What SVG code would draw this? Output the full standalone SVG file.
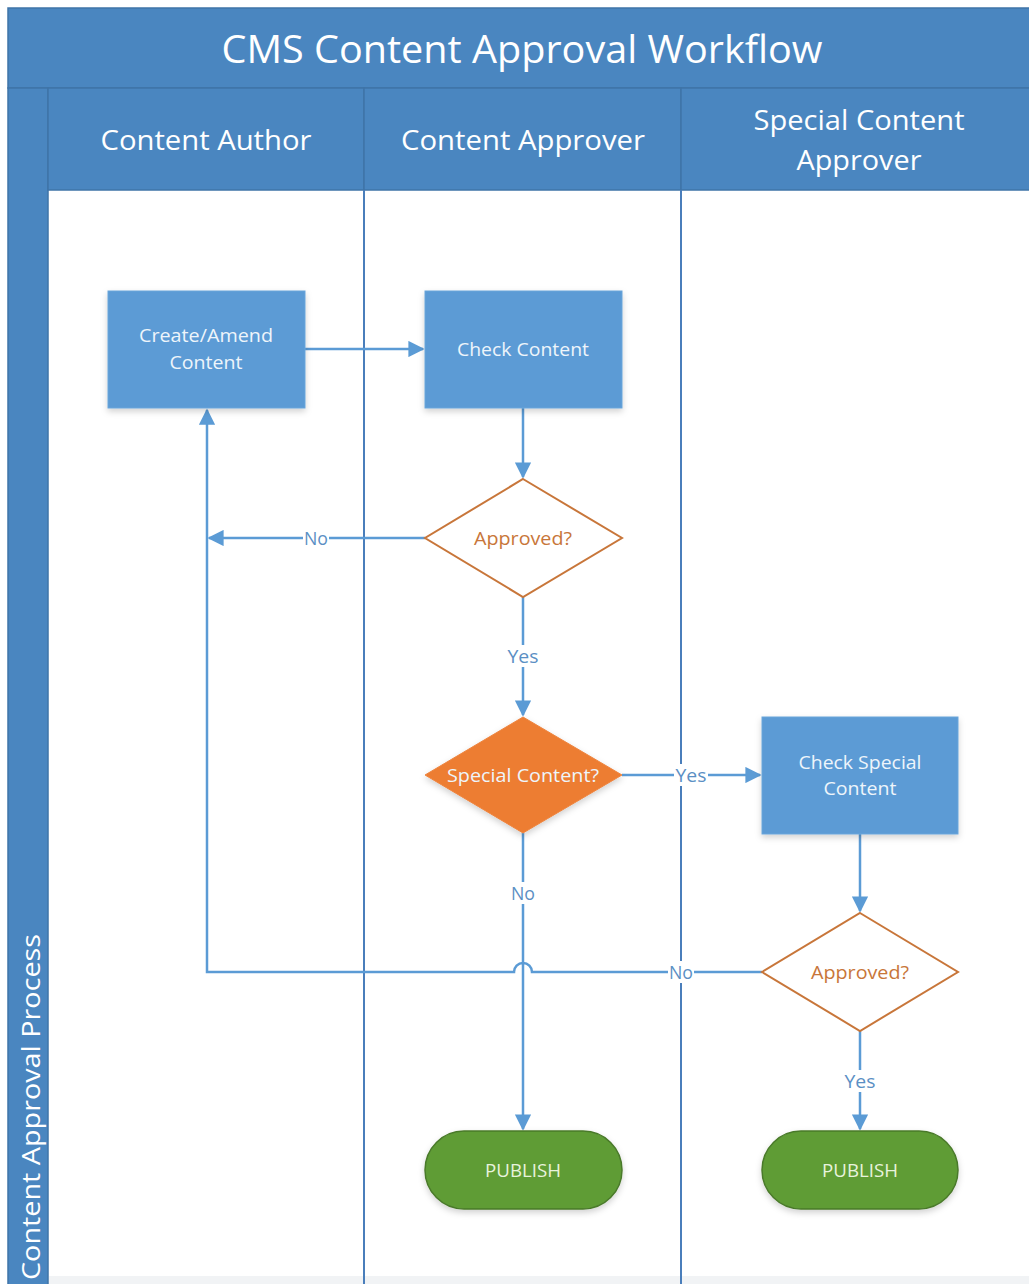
<svg xmlns="http://www.w3.org/2000/svg" width="1029" height="1284" viewBox="0 0 1029 1284">
<style>
.hdr{fill:#4a86c0;stroke:#3f74a8;stroke-width:1.5}
.lane{stroke:#4a7ebb;stroke-width:2;fill:none}
.box{fill:#5b9bd5;stroke:#6aa5da;stroke-width:1}
.dia{fill:#ffffff;stroke:#c8763a;stroke-width:2}
.diaf{fill:#ed7d31;stroke:#ee8540;stroke-width:1}
.pub{fill:#5f9c36;stroke:#4a7a2a;stroke-width:1.5}
.conn{stroke:#5b9bd5;stroke-width:2.5;fill:none}
.t{font-family:"Open Sans","Noto Sans",sans-serif;text-anchor:middle;dominant-baseline:central}
.tw{fill:#ffffff}
.tn{fill:#eef5fb;font-size:18px}
.to{fill:#c8763a;font-size:18px}
.tg{fill:#e8f3dc;font-size:18px}
.lbl{fill:#5b8fc4;font-size:18px}
</style>
<defs>
<marker id="arr" viewBox="0 0 10 10" refX="9" refY="5" markerWidth="6.5" markerHeight="6.5" orient="auto" markerUnits="strokeWidth">
<path d="M0,0 L10,5 L0,10 z" fill="#5b9bd5"/>
</marker>
<filter id="sh" x="-10%" y="-10%" width="130%" height="140%">
<feDropShadow dx="0" dy="3" stdDeviation="3" flood-color="#000" flood-opacity="0.18"/>
</filter>
</defs>
<rect width="1029" height="1284" fill="#ffffff"/>
<g id="frame">
<rect class="hdr" x="8" y="8" width="1025" height="80"/>
<rect class="hdr" x="8" y="88" width="40" height="1200"/>
<rect class="hdr" x="48" y="88" width="316" height="102"/>
<rect class="hdr" x="364" y="88" width="317" height="102"/>
<rect class="hdr" x="681" y="88" width="352" height="102"/>
<rect x="49" y="1276" width="980" height="8" fill="#f1f3f5"/>
<line class="lane" x1="364" y1="190" x2="364" y2="1284"/>
<line class="lane" x1="681" y1="190" x2="681" y2="1284"/>
<text class="t tw" x="522" y="48" font-size="38" textLength="601" lengthAdjust="spacingAndGlyphs">CMS Content Approval Workflow</text>
<text class="t tw" x="206" y="139" font-size="27" textLength="211" lengthAdjust="spacingAndGlyphs">Content Author</text>
<text class="t tw" x="523" y="139" font-size="27" textLength="244" lengthAdjust="spacingAndGlyphs">Content Approver</text>
<text class="t tw" x="859" y="119" font-size="27" textLength="211" lengthAdjust="spacingAndGlyphs">Special Content</text>
<text class="t tw" x="859" y="159" font-size="27" textLength="125" lengthAdjust="spacingAndGlyphs">Approver</text>
<text class="t tw" x="30" y="1107" font-size="26" transform="rotate(-90 30 1107)" textLength="346" lengthAdjust="spacingAndGlyphs">Content Approval Process</text>
</g>
<g id="connectors">
<line class="conn" x1="305" y1="349" x2="423" y2="349" marker-end="url(#arr)"/>
<line class="conn" x1="523" y1="408" x2="523" y2="477" marker-end="url(#arr)"/>
<line class="conn" x1="425" y1="538" x2="209" y2="538" marker-end="url(#arr)"/>
<line class="conn" x1="523" y1="597" x2="523" y2="715" marker-end="url(#arr)"/>
<line class="conn" x1="622" y1="775" x2="760" y2="775" marker-end="url(#arr)"/>
<line class="conn" x1="523" y1="833" x2="523" y2="1129" marker-end="url(#arr)"/>
<line class="conn" x1="860" y1="834" x2="860" y2="911" marker-end="url(#arr)"/>
<line class="conn" x1="860" y1="1031" x2="860" y2="1129" marker-end="url(#arr)"/>
<path class="conn" d="M762,972 H532 A9,9 0 0 0 514,972 H207 V410" marker-end="url(#arr)"/>
<rect x="303" y="528" width="26" height="20" fill="#ffffff"/>
<text class="t lbl" x="316" y="538" textLength="24" lengthAdjust="spacingAndGlyphs">No</text>
<rect x="506" y="645" width="34" height="22" fill="#ffffff"/>
<text class="t lbl" x="523" y="656" textLength="31" lengthAdjust="spacingAndGlyphs">Yes</text>
<rect x="674" y="764" width="34" height="22" fill="#ffffff"/>
<text class="t lbl" x="691" y="775" textLength="31" lengthAdjust="spacingAndGlyphs">Yes</text>
<rect x="509" y="882" width="28" height="22" fill="#ffffff"/>
<text class="t lbl" x="523" y="893" textLength="24" lengthAdjust="spacingAndGlyphs">No</text>
<rect x="668" y="961" width="26" height="22" fill="#ffffff"/>
<text class="t lbl" x="681" y="972" textLength="24" lengthAdjust="spacingAndGlyphs">No</text>
<rect x="843" y="1070" width="34" height="22" fill="#ffffff"/>
<text class="t lbl" x="860" y="1081" textLength="31" lengthAdjust="spacingAndGlyphs">Yes</text>
</g>
<g id="create-amend">
<rect class="box" x="108" y="291" width="197" height="117" filter="url(#sh)"/>
<text class="t tn" x="206" y="335" textLength="134" lengthAdjust="spacingAndGlyphs">Create/Amend</text>
<text class="t tn" x="206" y="362" textLength="73" lengthAdjust="spacingAndGlyphs">Content</text>
</g>
<g id="check-content">
<rect class="box" x="425" y="291" width="197" height="117" filter="url(#sh)"/>
<text class="t tn" x="523" y="349" textLength="132" lengthAdjust="spacingAndGlyphs">Check Content</text>
</g>
<g id="approved-1">
<polygon class="dia" points="523,479 622,538 523,597 425,538"/>
<text class="t to" x="523" y="538" textLength="98" lengthAdjust="spacingAndGlyphs">Approved?</text>
</g>
<g id="special-content">
<polygon class="diaf" points="523,717 622,775 523,833 425,775" filter="url(#sh)"/>
<text class="t tn" x="523" y="775" textLength="152" lengthAdjust="spacingAndGlyphs">Special Content?</text>
</g>
<g id="check-special">
<rect class="box" x="762" y="717" width="196" height="117" filter="url(#sh)"/>
<text class="t tn" x="860" y="762" textLength="123" lengthAdjust="spacingAndGlyphs">Check Special</text>
<text class="t tn" x="860" y="788" textLength="73" lengthAdjust="spacingAndGlyphs">Content</text>
</g>
<g id="approved-2">
<polygon class="dia" points="860,913 958,972 860,1031 762,972"/>
<text class="t to" x="860" y="972" textLength="98" lengthAdjust="spacingAndGlyphs">Approved?</text>
</g>
<g id="publish-1">
<rect class="pub" x="425" y="1131" width="197" height="78" rx="39" ry="39" filter="url(#sh)"/>
<text class="t tg" x="523" y="1170" textLength="76" lengthAdjust="spacingAndGlyphs">PUBLISH</text>
</g>
<g id="publish-2">
<rect class="pub" x="762" y="1131" width="196" height="78" rx="39" ry="39" filter="url(#sh)"/>
<text class="t tg" x="860" y="1170" textLength="76" lengthAdjust="spacingAndGlyphs">PUBLISH</text>
</g>
</svg>
